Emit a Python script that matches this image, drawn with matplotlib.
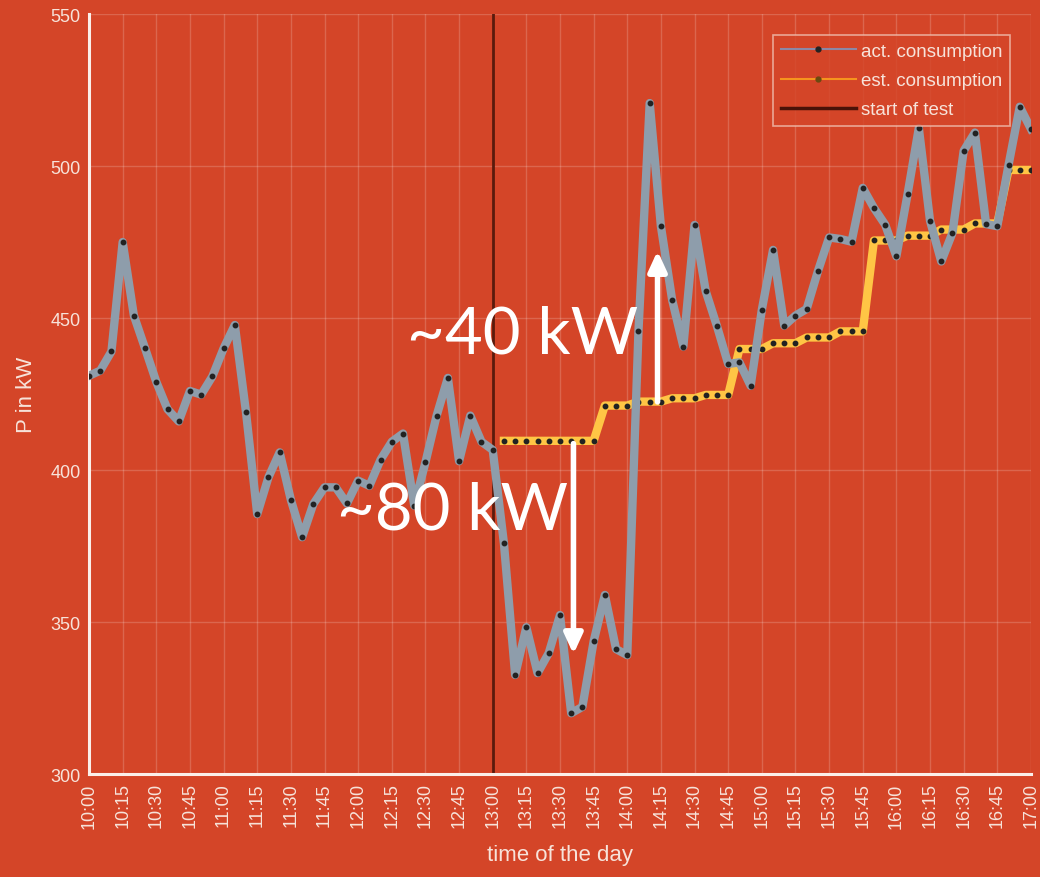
import numpy as np
import matplotlib
matplotlib.use('Agg')
from matplotlib import pyplot as plt
from matplotlib.lines import Line2D

# colours
bg = '#D44528'
fg = '#F7E3DA'

# time axis: minutes after 10:00, one sample every 5 min
minutes = np.arange(0, 421, 5)
tick_minutes = np.arange(0, 421, 15)
tick_labels = [f'{10 + m // 60}:{m % 60:02d}' for m in tick_minutes]

act = [431, 432.7, 439, 475, 450.8, 440, 429, 420, 416, 426, 424.8, 430.8,
       440, 447.7, 419, 385.5, 397.6, 405.8, 390.2, 377.9, 388.8, 394.3, 394.3, 389,
       396.5, 394.8, 403.4, 409.3, 412, 388.3, 402.5, 417.9, 430.3, 402.9, 417.9, 409.3,
       406.6, 375.9, 332.6, 348.3, 333.2, 339.8, 352.3, 320, 322.1, 343.6, 358.9, 341.1,
       339.1, 445.8, 520.7, 480.2, 456, 440.6, 480.6, 458.8, 447.3, 434.9, 435.4, 427.7,
       452.7, 472.4, 447.5, 450.8, 453, 465.4, 476.5, 476, 475.1, 492.8, 486.2, 480.7,
       470.3, 490.8, 512.5, 482, 468.6, 478, 505, 511, 480.9, 480.2, 500.3, 519.5,
       512.2]

# estimate starts at 13:05
est_start = 185
est = [409.6] * 9 + [421.2] * 3 + [422.5] * 3 + [423.6] * 3 + [424.7] * 3 + \
      [439.8] * 3 + [441.7] * 3 + [443.6] * 3 + [445.6] * 3 + [475.5] * 3 + \
      [477.1] * 3 + [479.1] * 3 + [481.1] * 3 + [498.7] * 3
est_minutes = np.arange(est_start, est_start + 5 * len(est), 5)

test_start = 180

fig = plt.figure(figsize=(10.4, 8.78), dpi=100, facecolor=bg)
ax = fig.add_axes([0.0856, 0.1173, 0.9057, 0.8656], facecolor=bg)

ax.grid(True, color='white', alpha=0.18, linewidth=1)
ax.set_axisbelow(True)

ax.axvline(test_start, color='#5A1A0C', linewidth=2, zorder=2)

ax.plot(est_minutes, est, color='#FFC545', linewidth=6, solid_joinstyle='round',
        marker='o', markersize=3.2, markerfacecolor='#222222', markeredgecolor='#222222', zorder=3)
ax.plot(minutes, act, color='#8E9DAB', linewidth=6, solid_joinstyle='round',
        marker='o', markersize=3.2, markerfacecolor='#222222', markeredgecolor='#222222', zorder=4)

ax.set_xlim(0, 420)
ax.set_ylim(300, 550)
ax.set_xticks(tick_minutes)
ax.set_xticklabels(tick_labels, rotation=90)
ax.set_yticks([300, 350, 400, 450, 500, 550])

for side in ['top', 'right']:
    ax.spines[side].set_visible(False)
for side in ['left', 'bottom']:
    ax.spines[side].set_color('#FBEFEA')
    ax.spines[side].set_linewidth(2.2)
ax.tick_params(colors=fg, labelsize=13, length=0, pad=6)
for lbl in ax.get_xticklabels() + ax.get_yticklabels():
    lbl.set_family('Liberation Sans')

ax.set_xlabel('time of the day', color=fg, fontsize=16, family='Liberation Sans', labelpad=12)
ax.set_ylabel('P in kW', color=fg, fontsize=16, family='Liberation Sans', labelpad=10)

# annotations
ax.annotate('', xy=(253.5, 473), xytext=(253.5, 421.5),
            arrowprops=dict(arrowstyle='-|>,head_length=1.2,head_width=0.55', color='white', lw=4), zorder=6)
ax.annotate('', xy=(216, 338.5), xytext=(216, 409.6),
            arrowprops=dict(arrowstyle='-|>,head_length=1.2,head_width=0.55', color='white', lw=4), zorder=6)
ax.text(245, 438.8, '~40 kW', color='white', fontsize=47, family='Lato',
        ha='right', va='baseline', zorder=7)
ax.text(213.5, 380.6, '~80 kW', color='white', fontsize=47, family='Lato',
        ha='right', va='baseline', zorder=7)

handles = [
    Line2D([0], [0], color='#8C88A6', lw=1.5, marker='o', markersize=3.5,
           markerfacecolor='#222222', markeredgecolor='#222222'),
    Line2D([0], [0], color='#F6941E', lw=1.5, marker='o', markersize=3.5,
           markerfacecolor='#6A4A10', markeredgecolor='#6A4A10'),
    Line2D([0], [0], color='#4A1208', lw=2.5),
]
leg = ax.legend(handles, ['act. consumption', 'est. consumption', 'start of test'],
                loc='upper right', bbox_to_anchor=(0.982, 0.977), fontsize=13.5,
                frameon=True, fancybox=False, facecolor=bg, edgecolor='#F0BFB0',
                handlelength=4.0, borderpad=0.4, labelspacing=0.65, handletextpad=0.3,
                borderaxespad=0.2)
leg.get_frame().set_linewidth(1.2)
for t in leg.get_texts():
    t.set_color(fg)
    t.set_family('Liberation Sans')

fig.savefig('out.png', dpi=100, facecolor=bg)
